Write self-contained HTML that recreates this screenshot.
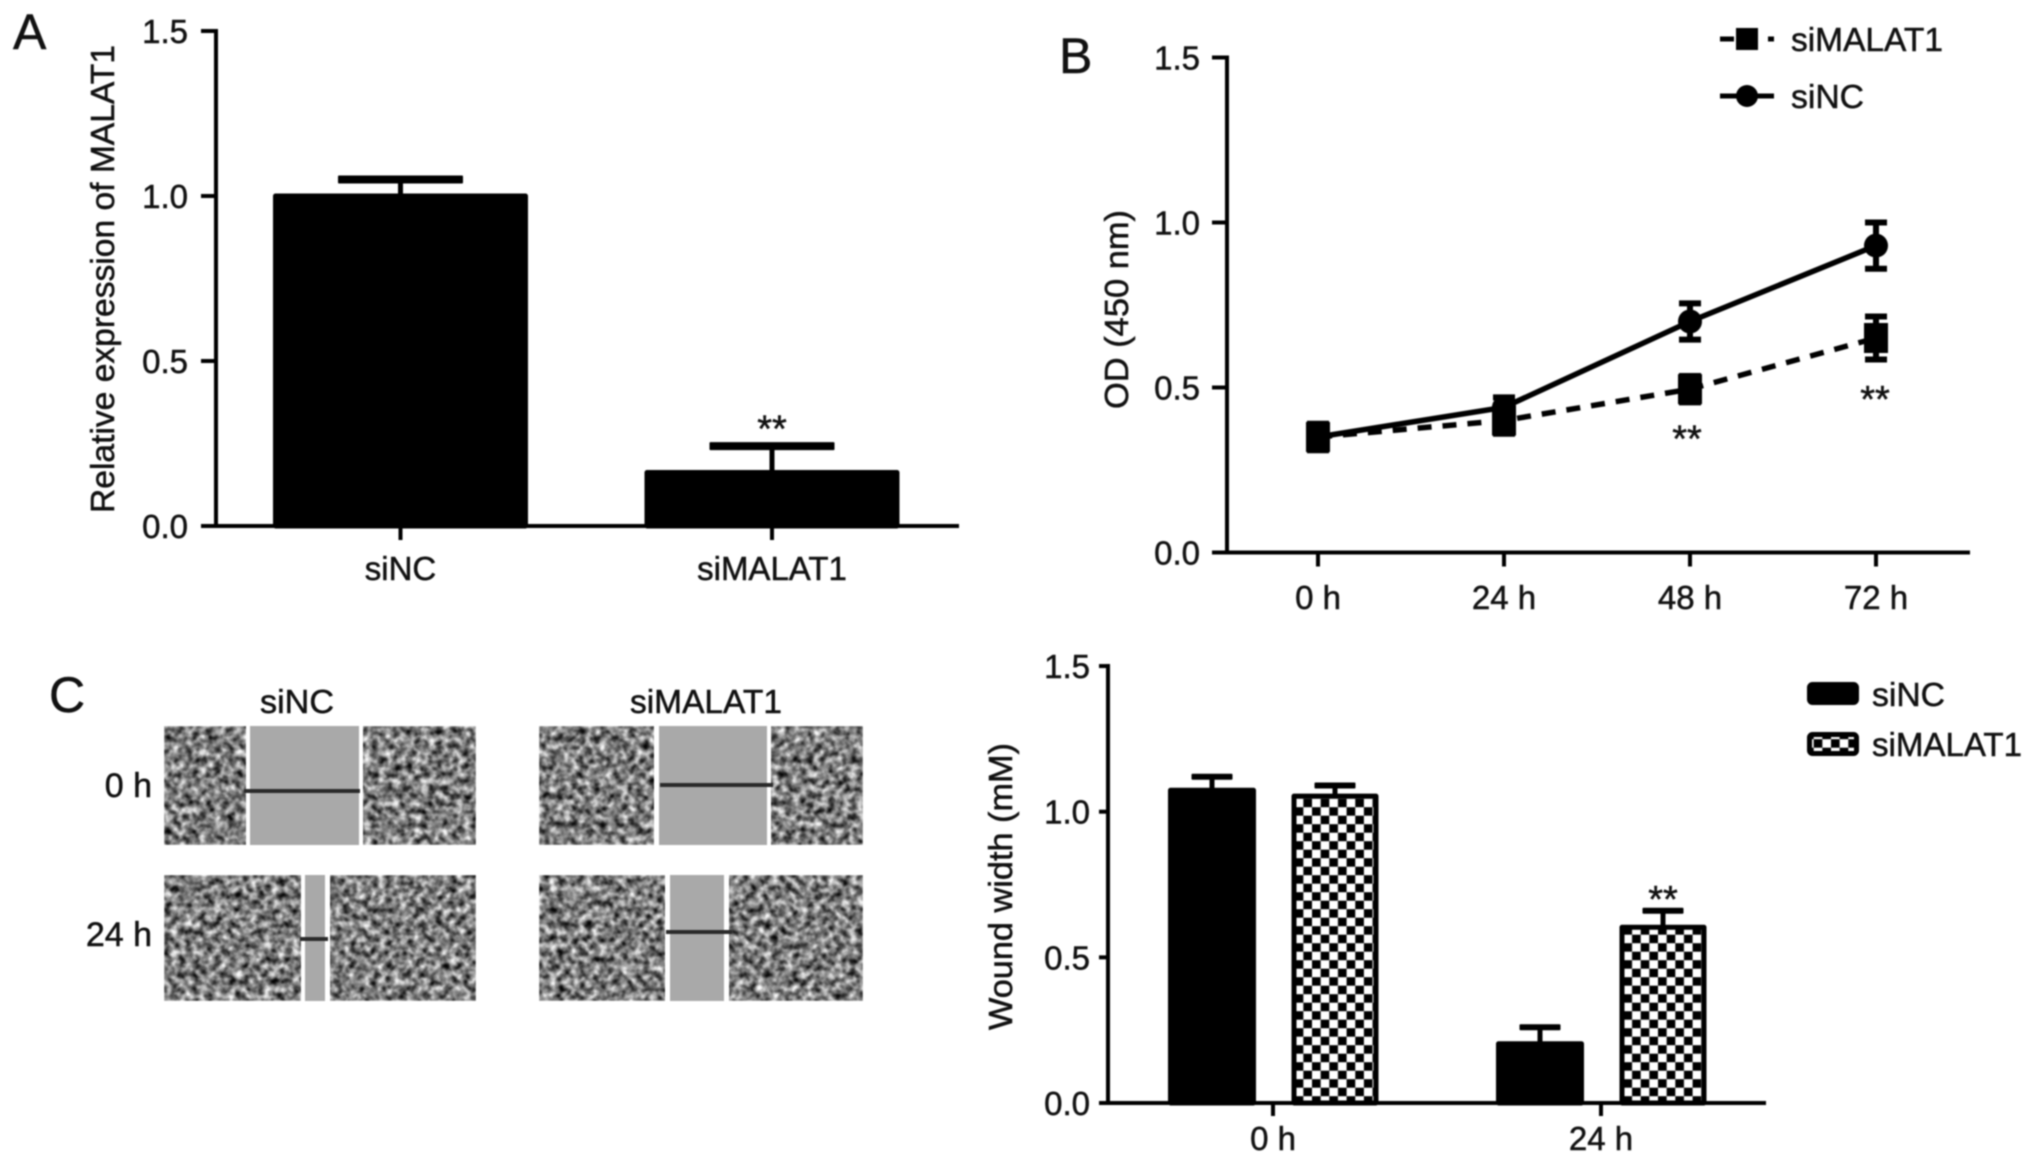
<!DOCTYPE html>
<html lang="en">
<head>
<meta charset="utf-8">
<title>MALAT1 knockdown figure</title>
<style>
html,body{margin:0;padding:0;background:#fff;}
#figure{display:block;width:2032px;height:1162px;filter:blur(0.8px);font-family:"Liberation Sans",sans-serif;fill:#111;}
#figure text{stroke:#111;stroke-width:0.5px;}
</style>
</head>
<body>
<svg id="figure" xmlns="http://www.w3.org/2000/svg" width="2032" height="1162" viewBox="0 0 2032 1162">
<defs>
  <filter id="tissue" x="0" y="0" width="1" height="1" color-interpolation-filters="sRGB">
    <feTurbulence type="fractalNoise" baseFrequency="0.14 0.14" numOctaves="3" seed="7"/>
    <feColorMatrix type="matrix" values="1.6 0 0 0 -0.31  1.6 0 0 0 -0.31  1.6 0 0 0 -0.31  0 0 0 0 1"/>
    <feGaussianBlur stdDeviation="0.9"/>
  </filter>
  <pattern id="checker" patternUnits="userSpaceOnUse" x="1294.7" y="798.7" width="17.3" height="17">
    <rect width="17.3" height="17" fill="#000"/>
    <rect width="8.65" height="8.5" fill="#fff"/>
    <rect x="8.65" y="8.5" width="8.65" height="8.5" fill="#fff"/>
  </pattern>
</defs>
<rect width="2032" height="1162" fill="#fff"/>

<text x="13" y="49" font-size="50">A</text>
<text x="1059" y="73" font-size="50">B</text>
<text x="49" y="712" font-size="50">C</text>

<g id="chart-a"></g>
<g id="chart-b"></g>
<g id="chart-d"></g>

<text transform="translate(114,513) rotate(-90)" font-size="33" textLength="468" lengthAdjust="spacingAndGlyphs">Relative expression of MALAT1</text>
<text transform="translate(1128,409) rotate(-90)" font-size="33" textLength="199" lengthAdjust="spacingAndGlyphs">OD (450 nm)</text>
<text transform="translate(1012,1030) rotate(-90)" font-size="33" textLength="287" lengthAdjust="spacingAndGlyphs">Wound width (mM)</text>

<g>
  <g>
    <line x1="1720" y1="39" x2="1774" y2="39" stroke="#000" stroke-width="5" stroke-dasharray="14 34 6 100"/>
    <rect x="1736" y="28" width="22" height="22" fill="#000"/>
    <text x="1791" y="51" font-size="33" textLength="152" lengthAdjust="spacingAndGlyphs">siMALAT1</text>
  </g>
  <g>
    <line x1="1720" y1="96" x2="1774" y2="96" stroke="#000" stroke-width="5"/>
    <circle cx="1747" cy="96" r="11" fill="#000"/>
    <text x="1791" y="108" font-size="33" textLength="73" lengthAdjust="spacingAndGlyphs">siNC</text>
  </g>
</g>

<g>
  <g>
    <rect x="1809.5" y="684.5" width="47" height="18" rx="3" fill="#000" stroke="#000" stroke-width="5"/>
    <text x="1872" y="706" font-size="33" textLength="73" lengthAdjust="spacingAndGlyphs">siNC</text>
  </g>
  <g>
    <rect x="1809.5" y="734.5" width="47" height="19" rx="3" fill="url(#checker)" stroke="#000" stroke-width="5"/>
    <text x="1872" y="756" font-size="33" textLength="150" lengthAdjust="spacingAndGlyphs">siMALAT1</text>
  </g>
</g>

<g>
  <text x="260" y="713" font-size="33" textLength="74" lengthAdjust="spacingAndGlyphs">siNC</text>
  <text x="630" y="713" font-size="33" textLength="152" lengthAdjust="spacingAndGlyphs">siMALAT1</text>
  <text x="152" y="797" font-size="34" text-anchor="end">0 h</text>
  <text x="152" y="946" font-size="34" text-anchor="end">24 h</text>

  <g>
    <rect x="164" y="726" width="312" height="119" filter="url(#tissue)"/>
    <rect x="246" y="726" width="117" height="119" fill="#fff"/>
    <rect x="250" y="726" width="109" height="119" fill="#a9a9a9"/>
    <line x1="244" y1="791" x2="360" y2="791" stroke="#2a2a2a" stroke-width="4"/>
  </g>
  <g>
    <rect x="539" y="726" width="324" height="119" filter="url(#tissue)"/>
    <rect x="654" y="726" width="117" height="119" fill="#fff"/>
    <rect x="659" y="726" width="108" height="119" fill="#a9a9a9"/>
    <line x1="660" y1="785" x2="773" y2="785" stroke="#2a2a2a" stroke-width="4"/>
  </g>
  <g>
    <rect x="164" y="875" width="312" height="126" filter="url(#tissue)"/>
    <rect x="301" y="875" width="29" height="126" fill="#fff"/>
    <rect x="305" y="875" width="20" height="126" fill="#a9a9a9"/>
    <line x1="300" y1="939" x2="328" y2="939" stroke="#2a2a2a" stroke-width="4"/>
  </g>
  <g>
    <rect x="539" y="875" width="324" height="126" filter="url(#tissue)"/>
    <rect x="665" y="875" width="64" height="126" fill="#fff"/>
    <rect x="670" y="875" width="54" height="126" fill="#a9a9a9"/>
    <line x1="666" y1="932" x2="732" y2="932" stroke="#2a2a2a" stroke-width="4"/>
  </g>
</g>

<script>
// Shared axis tick values and labels
var yTickValues = [0, 0.5, 1, 1.5];
var yTickLabels = ['0.0', '0.5', '1.0', '1.5'];

// Chart A: MALAT1 expression
var aCategories = ['siNC', 'siMALAT1'];
var aMeans = [1.0, 0.162];
var aErrors = [0.05, 0.08];
var aStarIndex = [1];
var aStarLevels = [0.31];

// Chart B: OD over time
var bCategories = ['0 h', '24 h', '48 h', '72 h'];
var bSiNC = [0.35, 0.44, 0.70, 0.93];
var bSiNCErr = [0.03, 0.03, 0.055, 0.07];
var bSiMALAT1 = [0.35, 0.40, 0.495, 0.65];
var bSiMALAT1Err = [0.04, 0.04, 0.04, 0.065];
var bStarIndex = [2, 3];
var bStarLevels = [0.36, 0.48];

// Chart C (right): wound width
var dCategories = ['0 h', '24 h'];
var dSiNC = [1.07, 0.20];
var dSiNCErr = [0.05, 0.06];
var dSiMALAT1 = [1.05, 0.60];
var dSiMALAT1Err = [0.04, 0.06];
var dStarIndex = [1];
var dStarLevels = [0.717];

var NS = 'http://www.w3.org/2000/svg';
function mk(parent, tag, attrs) {
  var el = document.createElementNS(NS, tag);
  for (var k in attrs) { el.setAttribute(k, attrs[k]); }
  parent.appendChild(el);
  return el;
}
function label(parent, str, x, y, anchor, name) {
  var el = mk(parent, 'text', {x: x, y: y, 'text-anchor': anchor, 'font-size': 33});
  el.textContent = str;
  
  
  return el;
}
function star(parent, x, y) {
  var el = mk(parent, 'text', {x: x, y: y + 18, 'text-anchor': 'middle', 'font-size': 38});
  el.textContent = '**';
  
  
}
function axes(g, spec) {
  var yAxis = mk(g, 'line', {x1: spec.x0, y1: spec.y(1.5) - 2, x2: spec.x0, y2: spec.y(0) + 2, stroke: '#000', 'stroke-width': 4});
  
  
  var xAxis = mk(g, 'line', {x1: spec.tickLeft, y1: spec.y(0), x2: spec.x1, y2: spec.y(0), stroke: '#000', 'stroke-width': 4});
  
  
  yTickValues.forEach(function (v, i) {
    var t = mk(g, 'line', {x1: spec.tickLeft, y1: spec.y(v), x2: spec.x0, y2: spec.y(v), stroke: '#000', 'stroke-width': 4});
    
    
    label(g, yTickLabels[i], spec.labelRight, spec.y(v) + 12, 'end', 'y-tick-label');
  });
  spec.categories.forEach(function (c, i) {
    var px = spec.x(i);
    var t = mk(g, 'line', {x1: px, y1: spec.y(0), x2: px, y2: spec.y(0) + spec.tickLen, stroke: '#000', 'stroke-width': 4});
    
    
    label(g, c, px, spec.catLabelY, 'middle', 'x-tick-label');
  });
}
function errorUp(g, px, yTop, yBase, capW, capH) {
  var stem = mk(g, 'line', {x1: px, y1: yTop, x2: px, y2: yBase, stroke: '#000', 'stroke-width': 5});
  
  
  var cap = mk(g, 'rect', {x: px - capW / 2, y: yTop - capH / 2, width: capW, height: capH, rx: 1, fill: '#000'});
  
  
}
function bar(g, px, w, yTop, yBase, fill, name) {
  var r = mk(g, 'rect', {x: px - w / 2, y: yTop, width: w, height: yBase - yTop, fill: fill, stroke: '#000', 'stroke-width': 5, 'stroke-linejoin': 'round'});
  
  
}

/* Chart A */
(function () {
  var g = document.getElementById('chart-a');
  function y(v) { return 526 - v * 330; }
  function x(i) { return 400.5 + i * 371.5; }
  aMeans.forEach(function (m, i) {
    errorUp(g, x(i), y(m + aErrors[i]), y(m), 125, 8);
    bar(g, x(i), 250, y(m), y(0), '#000', 'bar-' + aCategories[i].toLowerCase());
  });
  axes(g, {x0: 216, x1: 959, tickLeft: 201, y: y, x: x, categories: aCategories, labelRight: 188, tickLen: 14, catLabelY: 580});
  aStarIndex.forEach(function (idx, k) { star(g, x(idx), y(aStarLevels[k])); });
})();

/* Chart B */
(function () {
  var g = document.getElementById('chart-b');
  function y(v) { return 552.5 - v * 330; }
  function x(i) { return 1318 + i * 186; }
  axes(g, {x0: 1227, x1: 1970, tickLeft: 1212, y: y, x: x, categories: bCategories, labelRight: 1200, tickLen: 14, catLabelY: 609});
  function path(vals) {
    return vals.map(function (v, i) { return (i ? 'L' : 'M') + x(i) + ' ' + y(v); }).join(' ');
  }
  function errs(vals, es) {
    vals.forEach(function (v, i) {
      var e = mk(g, 'path', {d: 'M' + x(i) + ' ' + y(v + es[i]) + 'V' + y(v - es[i]) + 'M' + (x(i) - 11) + ' ' + y(v + es[i]) + 'h22M' + (x(i) - 11) + ' ' + y(v - es[i]) + 'h22', stroke: '#000', 'stroke-width': 6, fill: 'none'});
      
      
    });
  }
  errs(bSiMALAT1, bSiMALAT1Err);
  errs(bSiNC, bSiNCErr);
  var dashed = mk(g, 'path', {d: path(bSiMALAT1), fill: 'none', stroke: '#000', 'stroke-width': 5.5, 'stroke-dasharray': '14 11'});
  
  
  var solid = mk(g, 'path', {d: path(bSiNC), fill: 'none', stroke: '#000', 'stroke-width': 5.5});
  
  
  bSiMALAT1.forEach(function (v, i) {
    var s = mk(g, 'rect', {x: x(i) - 12, y: y(v) - 15, width: 24, height: 30, fill: '#000'});
    
    
  });
  bSiNC.forEach(function (v, i) {
    var c = mk(g, 'circle', {cx: x(i), cy: y(v), r: 12, fill: '#000'});
    
    
  });
  bStarIndex.forEach(function (idx, k) { star(g, x(idx) - (k === 0 ? 3 : 1), y(bStarLevels[k])); });
})();

/* Chart C right */
(function () {
  var g = document.getElementById('chart-d');
  function y(v) { return 1103 - v * 291.3; }
  function x(i) { return 1273 + i * 328; }
  dCategories.forEach(function (c, i) {
    errorUp(g, x(i) - 61, y(dSiNC[i] + dSiNCErr[i]), y(dSiNC[i]), 41, 6);
    errorUp(g, x(i) + 62, y(dSiMALAT1[i] + dSiMALAT1Err[i]), y(dSiMALAT1[i]), 41, 6);
    bar(g, x(i) - 61, 83, y(dSiNC[i]) - 1, y(0), '#000', 'bar-sinc-' + i);
    bar(g, x(i) + 62, 82, y(dSiMALAT1[i]) - 1, y(0), 'url(#checker)', 'bar-simalat1-' + i);
  });
  axes(g, {x0: 1108, x1: 1766, tickLeft: 1099, y: y, x: x, categories: dCategories, labelRight: 1090, tickLen: 13, catLabelY: 1150});
  dStarIndex.forEach(function (idx, k) { star(g, x(idx) + 62, y(dStarLevels[k])); });
})();
</script>
</svg>
</body>
</html>
